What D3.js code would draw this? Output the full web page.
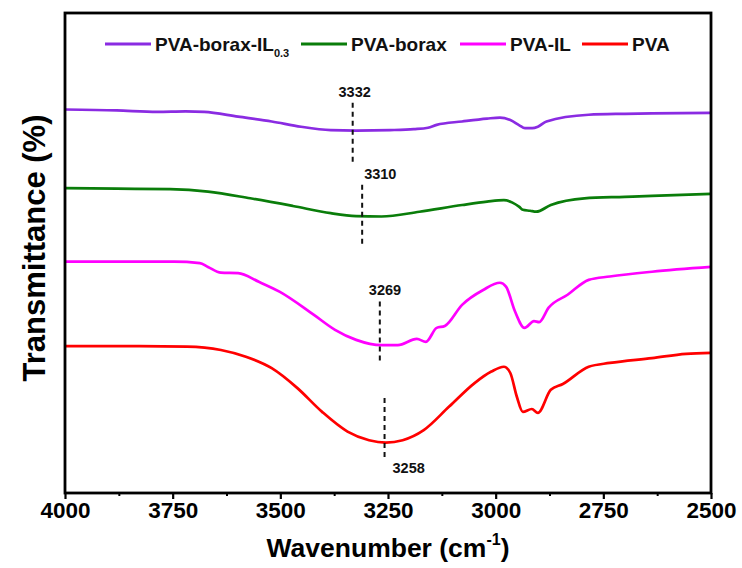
<!DOCTYPE html>
<html>
<head>
<meta charset="utf-8">
<script src="https://cdn.jsdelivr.net/npm/d3@7/dist/d3.min.js"></script>
<style>
  html, body { margin: 0; padding: 0; background: #fff; }
  svg { display: block; font-family: "Liberation Sans", Arial, sans-serif; }
</style>
</head>
<body>
<svg id="chart" width="742" height="568"></svg>
<script>
// ---------------- data ----------------
const seriesNames = ["PVA-borax-IL0.3", "PVA-borax", "PVA-IL", "PVA"];
const seriesColors = ["#8a2be2", "#0a7d0a", "#ff00ff", "#ff0000"];

const wnBoraxIL = [4000, 3880, 3786, 3720, 3677, 3598, 3520, 3452, 3383, 3324, 3245, 3190, 3157, 3137, 3078, 3020, 2990, 2966, 2945, 2932, 2915, 2902, 2882, 2784, 2700, 2637, 2500];
const tBoraxIL  = [79.9, 79.7, 79.4, 79.5, 79.4, 78.4, 77.4, 76.3, 75.6, 75.5, 75.6, 75.8, 76.1, 76.7, 77.4, 78.0, 78.2, 77.7, 76.6, 76.0, 76.0, 76.3, 77.4, 78.8, 79.0, 79.1, 79.2];

const wnBorax = [4000, 3880, 3756, 3668, 3570, 3471, 3383, 3324, 3265, 3177, 3078, 3020, 2981, 2961, 2945, 2937, 2920, 2906, 2872, 2794, 2700, 2637, 2500];
const tBorax  = [63.5, 63.4, 63.3, 62.8, 61.4, 59.8, 58.3, 57.7, 57.6, 58.6, 60.0, 60.7, 61.0, 60.5, 59.6, 59.0, 58.8, 58.6, 60.0, 61.4, 61.7, 61.9, 62.3];

const wnIL = [4000, 3880, 3747, 3687, 3668, 3638, 3598, 3550, 3501, 3422, 3373, 3324, 3265, 3227, 3183, 3162, 3137, 3118, 3078, 3029, 2990, 2976, 2955, 2933, 2911, 2899, 2877, 2833, 2784, 2735, 2637, 2500];
const tIL  = [48.2, 48.2, 48.2, 47.9, 47.1, 45.9, 45.8, 44.0, 41.9, 37.1, 34.0, 31.9, 30.8, 30.8, 32.1, 31.5, 34.4, 34.8, 39.2, 42.3, 43.8, 43.0, 37.8, 34.4, 35.8, 35.6, 38.6, 41.3, 44.4, 45.1, 46.1, 47.1];

const wnPVA = [4000, 3860, 3717, 3638, 3580, 3520, 3461, 3403, 3344, 3294, 3255, 3216, 3167, 3108, 3049, 3010, 2981, 2966, 2951, 2937, 2916, 2902, 2872, 2844, 2784, 2735, 2637, 2558, 2500];
const tPVA  = [30.6, 30.6, 30.5, 29.8, 28.4, 26.0, 21.9, 16.9, 12.8, 11.0, 10.5, 11.0, 13.1, 18.0, 22.9, 25.3, 26.3, 25.0, 20.1, 16.9, 17.5, 16.7, 21.5, 22.7, 26.3, 27.1, 28.1, 29.0, 29.2];

const peakLabels = ["3332", "3310", "3269", "3258"];
const peakWn     = [3332, 3310, 3269, 3258];
const peakTop    = [81.3, 64.2, 39.9, 19.8];
const peakBottom = [68.7, 51.3, 27.1, 6.9];

const xTickValues = [4000, 3750, 3500, 3250, 3000, 2750, 2500];
const xMinorTicks = [3875, 3625, 3375, 3125, 2875, 2625];

// ---------------- layout ----------------
const svg = d3.select("#chart");
const L = 65, R = 711, T = 13, B = 493;

const x = d3.scaleLinear().domain([4000, 2500]).range([L, R]);
const y = d3.scaleLinear().domain([0, 100]).range([B, T]);

const series = [
  { name: seriesNames[0], color: seriesColors[0], wn: wnBoraxIL, t: tBoraxIL },
  { name: seriesNames[1], color: seriesColors[1], wn: wnBorax, t: tBorax },
  { name: seriesNames[2], color: seriesColors[2], wn: wnIL, t: tIL },
  { name: seriesNames[3], color: seriesColors[3], wn: wnPVA, t: tPVA }
];

const line = d3.line()
  .x(d => x(d[0]))
  .y(d => y(d[1]))
  .curve(d3.curveMonotoneX);

// curves
series.forEach(s => {
  const pts = s.wn.map((w, i) => [w, s.t[i]]);
  svg.append("path")
    .attr("d", line(pts))
    .attr("fill", "none")
    .attr("stroke", s.color)
    .attr("stroke-width", 2.7)
    .attr("stroke-linejoin", "round");
});

// peak dashed lines + labels
const peakLabelPlace = [
  { anchor: "middle", dx: 2, at: "top", dy: -6 },
  { anchor: "start", dx: 2, at: "top", dy: -6 },
  { anchor: "start", dx: -11, at: "top", dy: -6 },
  { anchor: "start", dx: 8, at: "bottom", dy: 13 }
];
peakWn.forEach((w, i) => {
  svg.append("line")
    .attr("x1", x(w)).attr("x2", x(w))
    .attr("y1", y(peakTop[i])).attr("y2", y(peakBottom[i]))
    .attr("stroke", "#111")
    .attr("stroke-width", 2)
    .attr("stroke-dasharray", "5,4");
  const p = peakLabelPlace[i];
  const yy = p.at === "top" ? y(peakTop[i]) + p.dy : y(peakBottom[i]) + p.dy;
  svg.append("text")
    .attr("x", x(w) + p.dx)
    .attr("y", yy)
    .attr("text-anchor", p.anchor)
    .attr("font-size", 14.5)
    .attr("font-weight", "bold")
    .attr("fill", "#111")
    .text(peakLabels[i]);
});

// frame
svg.append("rect")
  .attr("x", L).attr("y", T)
  .attr("width", R - L).attr("height", B - T)
  .attr("fill", "none")
  .attr("stroke", "#000")
  .attr("stroke-width", 2.8);

// bottom axis (major)
const xAxis = d3.axisBottom(x).tickValues(xTickValues).tickSize(6).tickSizeOuter(0).tickFormat(d3.format("d"));
const gx = svg.append("g").attr("transform", `translate(0,${B})`).call(xAxis);
gx.select(".domain").remove();
gx.selectAll(".tick line").attr("stroke", "#000").attr("stroke-width", 2.2);
gx.selectAll(".tick text")
  .attr("font-family", "Liberation Sans, Arial, sans-serif")
  .attr("font-size", 22.5)
  .attr("font-weight", "bold")
  .attr("fill", "#000")
  .attr("dy", null)
  .attr("y", 25);

// minor ticks
const xMinor = d3.axisBottom(x).tickValues(xMinorTicks).tickSize(3).tickFormat("");
const gm = svg.append("g").attr("transform", `translate(0,${B})`).call(xMinor);
gm.select(".domain").remove();
gm.selectAll(".tick line").attr("stroke", "#000").attr("stroke-width", 2);

// axis titles
const xt = svg.append("text")
  .attr("x", 388)
  .attr("y", 557)
  .attr("text-anchor", "middle")
  .attr("font-size", 26.5)
  .attr("font-weight", "bold")
  .attr("fill", "#000");
xt.append("tspan").text("Wavenumber (cm");
xt.append("tspan").attr("font-size", 16).attr("dy", -12).text("-1");
xt.append("tspan").attr("dy", 12).text(")");

svg.append("text")
  .attr("transform", `translate(45,248) rotate(-90)`)
  .attr("text-anchor", "middle")
  .attr("font-size", 31)
  .attr("font-weight", "bold")
  .attr("fill", "#000")
  .text("Transmittance (%)");

// legend
const legendLineX = [105, 301, 460, 582];
const legendLineW = 46;
const legendY = 44;
series.forEach((s, i) => {
  const lx = legendLineX[i];
  svg.append("line")
    .attr("x1", lx).attr("x2", lx + legendLineW)
    .attr("y1", legendY).attr("y2", legendY)
    .attr("stroke", s.color)
    .attr("stroke-width", 3);
  const t = svg.append("text")
    .attr("x", lx + legendLineW + 4)
    .attr("y", legendY + 6.5)
    .attr("font-size", 19)
    .attr("font-weight", "bold")
    .attr("fill", "#111");
  if (i === 0) {
    t.append("tspan").text("PVA-borax-IL");
    t.append("tspan").attr("font-size", 11).attr("dy", 6).text("0.3");
  } else {
    t.text(s.name);
  }
});
</script>
</body>
</html>
